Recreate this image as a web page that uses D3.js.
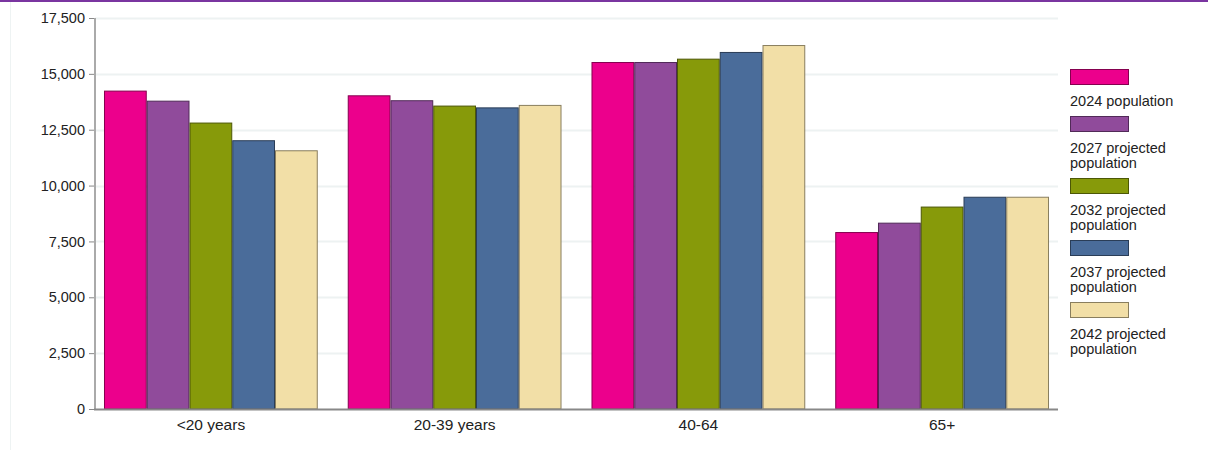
<!DOCTYPE html>
<html>
<head>
<meta charset="utf-8">
<script src="https://cdn.jsdelivr.net/npm/d3@7"></script>
<style>
  html, body { margin: 0; padding: 0; background: #fff; }
  svg { display: block; font-family: "Liberation Sans", Arial, sans-serif; }
</style>
</head>
<body>
<svg id="chart" width="1208" height="450"></svg>
<script>
const categories = ["<20 years", "20-39 years", "40-64", "65+"];
const seriesNames = ["2024 population", "2027 projected population", "2032 projected population", "2037 projected population", "2042 projected population"];
const legendLines = [["2024 population"], ["2027 projected", "population"], ["2032 projected", "population"], ["2037 projected", "population"], ["2042 projected", "population"]];
const colors = ["#EC008C", "#904B9B", "#879A0A", "#4A6C9A", "#F2DFA7"];
const v2024 = [14250, 14040, 15530, 7920];
const v2027 = [13800, 13820, 15530, 8340];
const v2032 = [12820, 13580, 15680, 9060];
const v2037 = [12030, 13500, 15980, 9500];
const v2042 = [11580, 13610, 16290, 9500];
const seriesValues = [v2024, v2027, v2032, v2037, v2042];
const yTicks = [0, 2500, 5000, 7500, 10000, 12500, 15000, 17500];

const svg = d3.select("#chart");

// frame
svg.append("rect").attr("x", 0).attr("y", 0).attr("width", 1208).attr("height", 2).attr("fill", "#7A35A0");
svg.append("line").attr("x1", 10.5).attr("x2", 10.5).attr("y1", 2).attr("y2", 450).attr("stroke", "#eef3f3").attr("stroke-width", 1);

const plotLeft = 95, plotRight = 1058, plotTop = 18, plotBottom = 409;

const y = d3.scaleLinear().domain([0, 17500]).range([plotBottom, plotTop]);
const x0 = d3.scaleBand().domain(categories).range([89, 1064]).paddingInner(0.123).paddingOuter(0.0615);
const x1 = d3.scaleBand().domain(seriesNames).range([0, x0.bandwidth()]).padding(0);

// gridlines
svg.append("g").selectAll("line").data(yTicks.filter(d => d > 0)).join("line")
  .attr("x1", plotLeft).attr("x2", plotRight)
  .attr("y1", d => Math.round(y(d)) + 0.5).attr("y2", d => Math.round(y(d)) + 0.5)
  .attr("stroke", "#edf2f2").attr("stroke-width", 2);

// y axis
const yAxis = d3.axisLeft(y).tickValues(yTicks).tickFormat(d3.format(",")).tickSize(6).tickPadding(4);
const gy = svg.append("g").attr("transform", `translate(${plotLeft},0)`).call(yAxis);
gy.select(".domain").remove();
gy.selectAll(".tick line").attr("stroke", "#888");
gy.selectAll(".tick text").attr("fill", "#222").attr("font-size", "14.5px").attr("font-family", "Liberation Sans, Arial, sans-serif");

// bars
const groups = svg.append("g").selectAll("g").data(categories).join("g")
  .attr("transform", d => `translate(${x0(d)},0)`);
groups.selectAll("rect").data((c, ci) => seriesNames.map((s, si) => ({ s, si, v: seriesValues[si][ci] }))).join("rect")
  .attr("x", d => x1(d.s) + 0.5)
  .attr("y", d => y(d.v) + 0.5)
  .attr("width", x1.bandwidth() - 1)
  .attr("height", d => plotBottom - y(d.v) - 0.5)
  .attr("fill", d => colors[d.si])
  .attr("stroke", d => d3.color(colors[d.si]).darker(1.6))
  .attr("stroke-width", 1);

// axis lines
svg.append("line").attr("x1", plotLeft).attr("x2", plotLeft).attr("y1", plotTop).attr("y2", plotBottom + 1)
  .attr("stroke", "#aaa").attr("stroke-width", 2);
svg.append("line").attr("x1", plotLeft - 1).attr("x2", plotRight).attr("y1", plotBottom + 0.5).attr("y2", plotBottom + 0.5)
  .attr("stroke", "#888").attr("stroke-width", 2);

// x axis labels
const xAxis = d3.axisBottom(x0).tickSize(0).tickPadding(10);
const gx = svg.append("g").attr("transform", `translate(0,${plotBottom})`).call(xAxis);
gx.select(".domain").remove();
gx.selectAll(".tick text").attr("fill", "#222").attr("font-size", "15.5px").attr("font-family", "Liberation Sans, Arial, sans-serif");

// legend
const lg = svg.append("g");
let cy = 69;
seriesNames.forEach((s, i) => {
  lg.append("rect").attr("x", 1070.5).attr("y", cy + 0.5).attr("width", 58).attr("height", 15)
    .attr("fill", colors[i]).attr("stroke", d3.color(colors[i]).darker(1.6)).attr("stroke-width", 1);
  let by = cy + 37;
  const t = lg.append("text").attr("x", 1070).attr("y", by).attr("font-size", "14.5px").attr("fill", "#222");
  legendLines[i].forEach((ln, li) => {
    t.append("tspan").attr("x", 1070).attr("y", by + li * 15).text(ln);
  });
  cy = by + (legendLines[i].length - 1) * 15 + 10;
});
</script>
</body>
</html>
